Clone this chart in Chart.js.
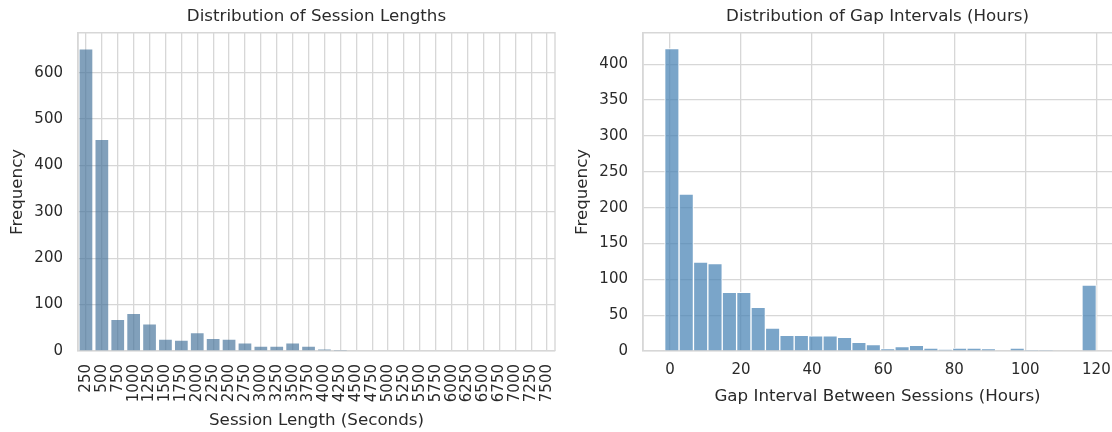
<!DOCTYPE html>
<html>
<head>
<meta charset="utf-8">
<script src="https://cdn.jsdelivr.net/npm/chart.js@4.4.1/dist/chart.umd.min.js"></script>
<style>
  html, body { margin: 0; padding: 0; background: #fff; overflow: hidden; width: 1112px; height: 432px; }
  #sessions { position: absolute; left: 0; top: 0; }
  #gaps { position: absolute; left: 560px; top: 0; }
</style>
</head>
<body>
<canvas id="sessions" width="560" height="432"></canvas>
<canvas id="gaps" width="552" height="432"></canvas>
<script>
// Session length categories (seconds) and how many sessions fall in each
const sessionLabels = ['250','500','750','1000','1250','1500','1750','2000','2250','2500',
  '2750','3000','3250','3500','3750','4000','4250','4500','4750','5000',
  '5250','5500','5750','6000','6250','6500','6750','7000','7250','7500'];
const sessionCounts = [650, 455, 67, 80, 57, 24, 22, 38, 26, 24,
  16, 9, 9, 16, 9, 3, 1, 0, 0, 0,
  0, 0, 0, 0, 0, 0, 0, 0, 0, 0];

// Gap interval histogram: 30 equal bins starting at gapBinStart hours
const gapBinStart = -1.5;
const gapBinWidth = 4.05;
const gapCounts = [422, 219, 124, 122, 82, 82, 61, 32, 22, 22,
  21, 21, 19, 12, 9, 3, 6, 8, 4, 2,
  4, 4, 3, 0, 4, 1, 1, 0, 0, 92];

const GRID = '#d7d7d7';
const TEXT = '#2a2a2a';
Chart.defaults.font.family = "'DejaVu Sans', Verdana, sans-serif";
Chart.defaults.color = TEXT;

const TICK_FONT = { size: 15 };
const LABEL_FONT = { size: 16.7 };

// Outline of the plotting area; the right edge can be left open
const framePlugin = {
  id: 'frame',
  afterDatasetsDraw(chart, args, opts) {
    const { ctx, chartArea: a } = chart;
    ctx.save();
    ctx.strokeStyle = GRID;
    ctx.lineWidth = 1.4;
    ctx.beginPath();
    ctx.moveTo(a.left, a.bottom);
    ctx.lineTo(a.left, a.top);
    ctx.lineTo(a.right, a.top);
    if (opts.right !== false) ctx.lineTo(a.right, a.bottom);
    ctx.stroke();
    ctx.restore();
  }
};

function titleOpts(text) {
  return {
    display: true, text, color: TEXT, fullSize: false,
    font: { size: 16.7, weight: 'normal' },
    padding: { top: 7, bottom: 5.7 }
  };
}

// Fixed axis boxes so the plotting area lands at the same place every time
function fixX(h) {
  return s => { s.height = h; s.paddingLeft = 0; s.paddingRight = 0; };
}
function fixY(w) {
  return s => { s.width = w; s.paddingTop = 0; s.paddingBottom = 0; };
}

// Left: session lengths as a categorical bar chart
new Chart(document.getElementById('sessions'), {
  type: 'bar',
  data: {
    labels: sessionLabels,
    datasets: [{
      data: sessionCounts,
      backgroundColor: 'rgba(70,115,155,0.68)',
      borderWidth: 0,
      barPercentage: 0.8,
      categoryPercentage: 1.0
    }]
  },
  options: {
    responsive: false,
    animation: false,
    layout: { padding: { left: 0, right: 5, top: 0, bottom: 0 } },
    plugins: {
      legend: { display: false },
      tooltip: { enabled: false },
      title: titleOpts('Distribution of Session Lengths'),
      frame: { right: true }
    },
    scales: {
      x: {
        offset: true,
        grid: { offset: false, color: GRID, lineWidth: 1.3, drawTicks: false },
        border: { color: GRID, width: 1.4 },
        ticks: { autoSkip: false, minRotation: 90, maxRotation: 90, padding: 13, font: TICK_FONT },
        title: { display: true, text: 'Session Length (Seconds)', font: LABEL_FONT, padding: { top: 0, bottom: 1.5 } },
        afterFit: fixX(81)
      },
      y: {
        min: 0, max: 686,
        grid: { color: GRID, lineWidth: 1.3, drawTicks: false },
        border: { color: GRID, width: 1.4 },
        ticks: { stepSize: 100, includeBounds: false, padding: 15, font: TICK_FONT },
        title: { display: true, text: 'Frequency', font: LABEL_FONT, padding: { top: 8, bottom: 0 } },
        afterFit: fixY(78)
      }
    }
  },
  plugins: [framePlugin]
});

// Right: gap intervals as a histogram on a linear hour axis
const gapPoints = gapCounts.map((c, i) => ({ x: gapBinStart + gapBinWidth * (i + 0.5), y: c }));
new Chart(document.getElementById('gaps'), {
  type: 'bar',
  data: {
    datasets: [{
      data: gapPoints,
      backgroundColor: 'rgba(70,130,180,0.72)',
      borderColor: '#ffffff',
      borderWidth: 1,
      barPercentage: 1.0,
      categoryPercentage: 1.0
    }]
  },
  options: {
    responsive: false,
    animation: false,
    layout: { padding: { left: 0, right: 0, top: 0, bottom: 0 } },
    plugins: {
      legend: { display: false },
      tooltip: { enabled: false },
      title: titleOpts('Distribution of Gap Intervals (Hours)'),
      frame: { right: false }
    },
    scales: {
      x: {
        type: 'linear',
        min: -7.6, max: 124.4,
        offset: false,
        grid: { offset: false, color: GRID, lineWidth: 1.3, drawTicks: false },
        border: { color: GRID, width: 1.4 },
        ticks: { stepSize: 20, includeBounds: false, padding: 10, font: TICK_FONT },
        title: { display: true, text: 'Gap Interval Between Sessions (Hours)', font: LABEL_FONT, padding: { top: 0, bottom: 25 } },
        afterFit: fixX(81)
      },
      y: {
        min: 0, max: 444,
        grid: { color: GRID, lineWidth: 1.3, drawTicks: false },
        border: { color: GRID, width: 1.4 },
        ticks: { stepSize: 50, includeBounds: false, padding: 15, font: TICK_FONT },
        title: { display: true, text: 'Frequency', font: LABEL_FONT, padding: { top: 13, bottom: 0 } },
        afterFit: fixY(83)
      }
    }
  },
  plugins: [framePlugin]
});
</script>
</body>
</html>
